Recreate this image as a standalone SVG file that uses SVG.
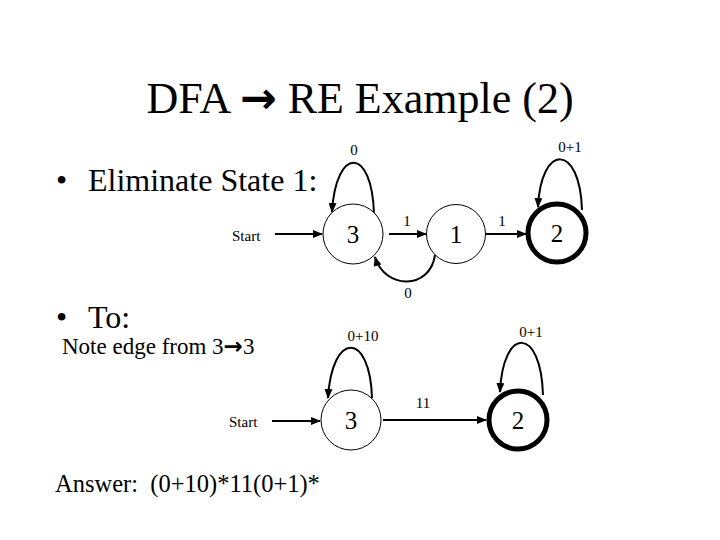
<svg xmlns="http://www.w3.org/2000/svg" width="720" height="540" viewBox="0 0 720 540">
<style>
.t{font-family:"Liberation Serif","Times New Roman",serif;fill:#000}
.ar{font-family:"DejaVu Sans",sans-serif;font-weight:bold}
.title{font-size:44px}
.b{font-size:32px}
.s{font-size:15px}
.n{font-size:25px}
.e{fill:none;stroke:#000;stroke-width:2}
.c{fill:#fff;stroke:#000;stroke-width:1}
.f{fill:#fff;stroke:#000;stroke-width:5}
</style>
<defs>
<marker id="ah" markerUnits="userSpaceOnUse" markerWidth="10" markerHeight="8" refX="9" refY="4" orient="auto">
<path d="M0,0 L10,4 L0,8 Z" fill="#000"/>
</marker>
</defs>
<rect width="720" height="540" fill="#fff"/>
<text class="t title" x="360" y="113" text-anchor="middle">DFA <tspan class="ar" font-size="44">→</tspan> RE Example (2)</text>
<text class="t b" x="56" y="191">•</text>
<text class="t b" x="88" y="191">Eliminate State 1:</text>
<text class="t b" x="56" y="328">•</text>
<text class="t b" x="88" y="328">To:</text>
<text class="t" x="62" y="354" font-size="23">Note edge from 3<tspan class="ar" font-size="23">→</tspan>3</text>
<text class="t" x="55" y="492" font-size="24.5" xml:space="preserve">Answer:  (0+10)*11(0+1)*</text>

<g id="connectors">
<path class="e" d="M275,234 L322,234" marker-end="url(#ah)"/>
<path class="e" d="M389,234 L426,234" marker-end="url(#ah)"/>
<path class="e" d="M486,234 L526,234" marker-end="url(#ah)"/>
<path class="e" d="M374,214 C372,146 336,146 332,212" marker-end="url(#ah)"/>
<path class="e" d="M582,210 C580,143 541,143 538,207" marker-end="url(#ah)"/>
<path class="e" d="M435,255 C430,290 385,290 375,257" marker-end="url(#ah)"/>
<path class="e" d="M272,421 L320,421" marker-end="url(#ah)"/>
<path class="e" d="M383,420 L486,420" marker-end="url(#ah)"/>
<path class="e" d="M372,398 C370,331 332,331 328,398" marker-end="url(#ah)"/>
<path class="e" d="M543,395 C541,326 503,326 500,392" marker-end="url(#ah)"/>
<text class="t s" x="232" y="241">Start</text>
<text class="t s" x="407" y="226" text-anchor="middle">1</text>
<text class="t s" x="502" y="226" text-anchor="middle">1</text>
<text class="t s" x="354" y="155" text-anchor="middle">0</text>
<text class="t s" x="570" y="152" text-anchor="middle">0+1</text>
<text class="t s" x="408" y="298" text-anchor="middle">0</text>
<text class="t s" x="229" y="427">Start</text>
<text class="t s" x="423" y="408" text-anchor="middle">11</text>
<text class="t s" x="363" y="341" text-anchor="middle">0+10</text>
<text class="t s" x="531" y="337" text-anchor="middle">0+1</text>
</g>

<g id="n3a"><circle class="c" cx="353" cy="234" r="30"/><text class="t n" x="353" y="243" text-anchor="middle">3</text></g>
<g id="n1a"><circle class="c" cx="456" cy="234" r="29.5"/><text class="t n" x="456" y="243" text-anchor="middle">1</text></g>
<g id="n2a"><circle class="f" cx="557" cy="233" r="29"/><text class="t n" x="557" y="242" text-anchor="middle">2</text></g>
<g id="n3b"><circle class="c" cx="351" cy="420" r="30"/><text class="t n" x="351" y="429" text-anchor="middle">3</text></g>
<g id="n2b"><circle class="f" cx="518" cy="420" r="29"/><text class="t n" x="518" y="429" text-anchor="middle">2</text></g>
</svg>
